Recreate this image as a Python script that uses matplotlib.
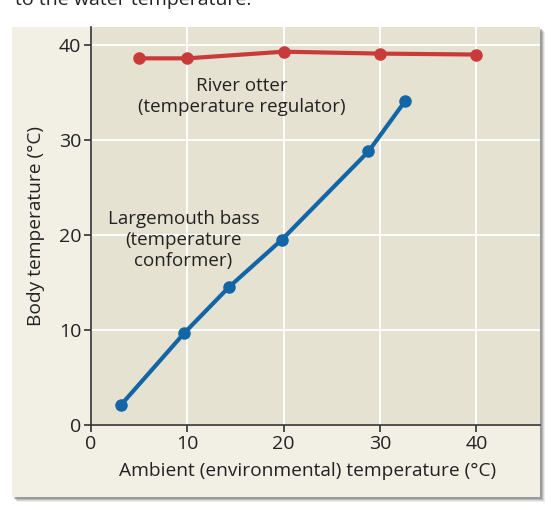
import matplotlib.pyplot as plt
from matplotlib.patches import Rectangle

# River otter (regulator) and largemouth bass (conformer)
otter_x = [5, 10, 20, 30, 40]
otter_y = [38.6, 38.6, 39.3, 39.1, 39.0]
bass_x = [3.1, 9.7, 14.3, 19.8, 28.8, 32.6]
bass_y = [2.1, 9.7, 14.5, 19.5, 28.8, 34.1]
ticks = [0, 10, 20, 30, 40]

red = '#c93a3b'
blue = '#1366a6'
panel = '#f2efe4'
plotbg = '#e6e2d1'
txt = '#222222'

plt.rcParams['font.family'] = ['Open Sans', 'DejaVu Sans']

W, H = 552, 514
fig = plt.figure(figsize=(W/100, H/100), dpi=100)
fig.patch.set_facecolor('white')

# panel with a soft shadow
for i, a in enumerate([0.10, 0.15, 0.22, 0.3]):
    off = 5 - i
    fig.patches.append(Rectangle(((12+off)/W, (H-497-off)/H), 528/W, 470/H,
                                 transform=fig.transFigure, facecolor='#555555',
                                 alpha=a, edgecolor='none', zorder=0))
fig.patches.append(Rectangle((12/W, (H-497)/H), 528/W, 470/H,
                             transform=fig.transFigure, facecolor=panel,
                             edgecolor='none', zorder=1))

# caption line cut off at the top, as in the source
fig.text(15/W, (H-5)/H, 'to the water temperature.', fontsize=14, color=txt,
         ha='left', va='baseline')

ax = fig.add_axes([91/W, (H-425)/H, 449/W, 398/H])
ax.set_facecolor(plotbg)
ax.set_zorder(2)

ax.plot(otter_x, otter_y, color=red, lw=3, marker='o', ms=8, solid_capstyle='round', zorder=3)
ax.plot(bass_x, bass_y, color=blue, lw=3, marker='o', ms=8, solid_capstyle='round', zorder=3)

ax.set_xlim(0, 46.6)
ax.set_ylim(0, 41.9)
ax.set_xticks(ticks)
ax.set_yticks(ticks)
ax.grid(True, color='white', lw=1.3)
ax.set_axisbelow(True)

for s in ['top', 'right']:
    ax.spines[s].set_visible(False)
for s in ['left', 'bottom']:
    ax.spines[s].set_color('#333333')
    ax.spines[s].set_linewidth(1.2)
ax.tick_params(length=5, width=1.2, color='#333333', labelsize=14,
               labelcolor=txt, pad=2)

ax.set_xlabel('Ambient (environmental) temperature (°C)', fontsize=13.8, color=txt)
ax.set_ylabel('Body temperature (°C)', fontsize=13.8, color=txt)
ax.xaxis.set_label_coords(0.483, -0.093)
ax.yaxis.set_label_coords(-0.102, 0.5)

ax.text(15.7, 34.6, 'River otter\n(temperature regulator)', fontsize=13.5,
        color=txt, ha='center', va='center')
ax.text(9.6, 19.5, 'Largemouth bass\n(temperature\nconformer)', fontsize=13.5,
        color=txt, ha='center', va='center')

fig.savefig('out.png', dpi=100, facecolor=fig.get_facecolor())
